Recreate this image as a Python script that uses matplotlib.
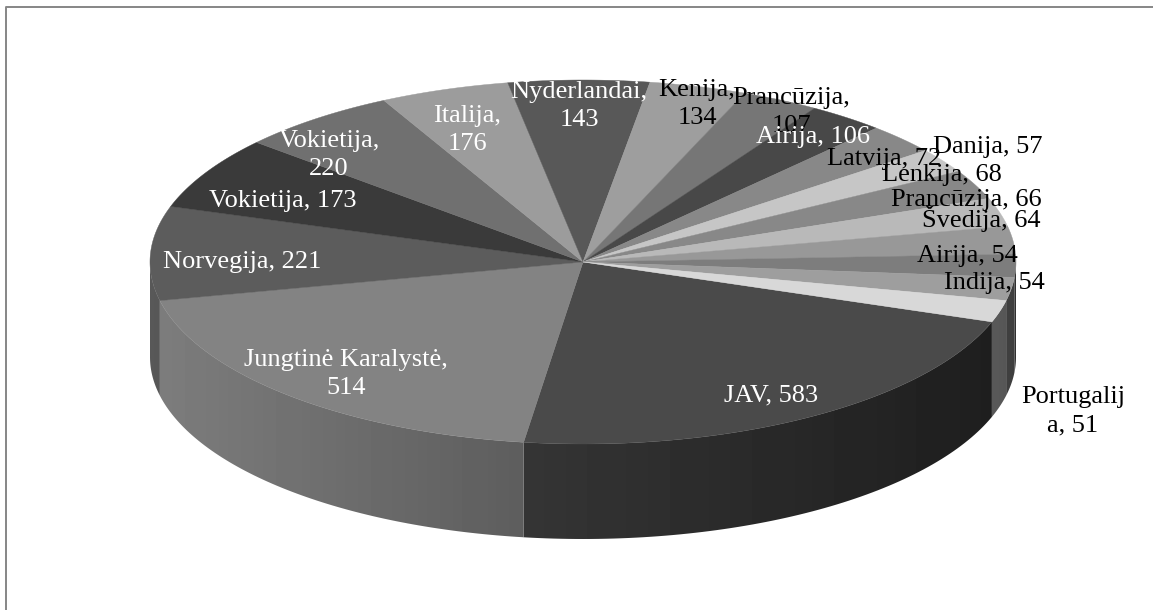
import numpy as np
import matplotlib
matplotlib.use('Agg')
import matplotlib.pyplot as plt
from matplotlib.patches import Polygon

plt.rcParams['font.family'] = ['Liberation Serif', 'DejaVu Serif']

# slices, clockwise starting with JAV
labels = ['JAV, 583', 'Jungtinė Karalystė,\n514', 'Norvegija, 221', 'Vokietija, 173',
          'Vokietija,\n220', 'Italija,\n176', 'Nyderlandai,\n143', 'Kenija,\n134',
          'Prancūzija,\n107', 'Airija, 106', 'Latvija, 72', 'Danija, 57', 'Lenkija, 68',
          'Prancūzija, 66', 'Švedija, 64', 'Airija, 54', 'Indija, 54', 'Portugalij\na, 51']
values = [583, 514, 221, 173, 220, 176, 143, 134, 107, 106, 72, 57, 68, 66, 64, 54, 54, 51]

# grey level of each slice top
greys = [74, 131, 92, 58, 112, 156, 88, 158, 118, 72, 136, 198, 136, 185, 152, 125, 158, 216]
label_colors = ['white'] * 7 + ['black', 'black', 'white'] + ['black'] * 8

# label centres in pixels, Excel placed these by hand more or less
label_x = [771, 346, 242, 283, 329, 467, 579, 697, 791, 813, 884, 988, 942, 966, 981, 967, 994, 1073]
label_y = [395, 374, 262, 201, 155, 130, 106, 104, 112, 137, 159, 147, 175, 200, 219, 256, 283, 411]

# the 3-D view of Excel skews the angles, this is the shift
skew_at = [0, 75, 165, 187.5, 215, 237, 255, 300, 340, 360]
skew = [19.2, 24.7, 32, 33.6, 27.5, 22.7, 23.7, 13.5, 17.5, 19.2]

# pie geometry
cx, cy = 583, 262
rx, ry = 433, 182
depth = 95

fig = plt.figure(figsize=(11.53, 6.10), dpi=100)
ax = fig.add_axes([0, 0, 1, 1])
ax.axis('off')

# chart frame, right and bottom edges fall outside of the crop
ax.plot([5.5, 5.5, 1153], [610, 7, 7], color='#868686', lw=1.4)


def to_screen(a):
    return a + np.interp(a, skew_at, skew)


def rim(t):
    t = np.radians(t)
    return cx + rx * np.cos(t), cy + ry * np.sin(t)


ends = np.cumsum(values) / np.sum(values) * 360
starts = np.concatenate([[0], ends[:-1]])

# side wall first: a gradient image clipped to each wall piece
xs = np.linspace(cx - rx, cx + rx, 200)
shade = 0.675 - 0.28 * (xs - cx) / rx
for a0, a1, g in zip(starts, ends, greys):
    t0, t1 = to_screen(a0), to_screen(a1)
    # only the front half of the rim can be seen, 0 degrees is the right end
    if t1 > 360:
        t0, t1 = max(t0 - 360, 0), t1 - 360
    elif t0 > 180:
        continue
    x, y = rim(np.linspace(t0, min(t1, 180), 80))
    outline = np.c_[np.r_[x, x[::-1]], np.r_[y, y[::-1] + depth]]
    patch = Polygon(outline, closed=True, fc='none', ec='none')
    ax.add_patch(patch)
    im = ax.imshow((g * shade / 255)[None, :], cmap='gray', vmin=0, vmax=1, aspect='auto',
                   extent=(cx - rx, cx + rx, cy + ry + depth, cy - ry), zorder=1)
    im.set_clip_path(patch)

ax.set_xlim(0, 1153)
ax.set_ylim(610, 0)

# top of the pie
for a0, a1, g in zip(starts, ends, greys):
    x, y = rim(np.linspace(to_screen(a0), to_screen(a1), 80))
    ax.fill(np.r_[cx, x], np.r_[cy, y], color=str(g / 255), lw=0.3, zorder=2)

for lab, x, y, col in zip(labels, label_x, label_y, label_colors):
    ax.text(x, y, lab, color=col, fontsize=19, ha='center', va='center', linespacing=1.36, zorder=3)

fig.savefig('out.png', dpi=100)
